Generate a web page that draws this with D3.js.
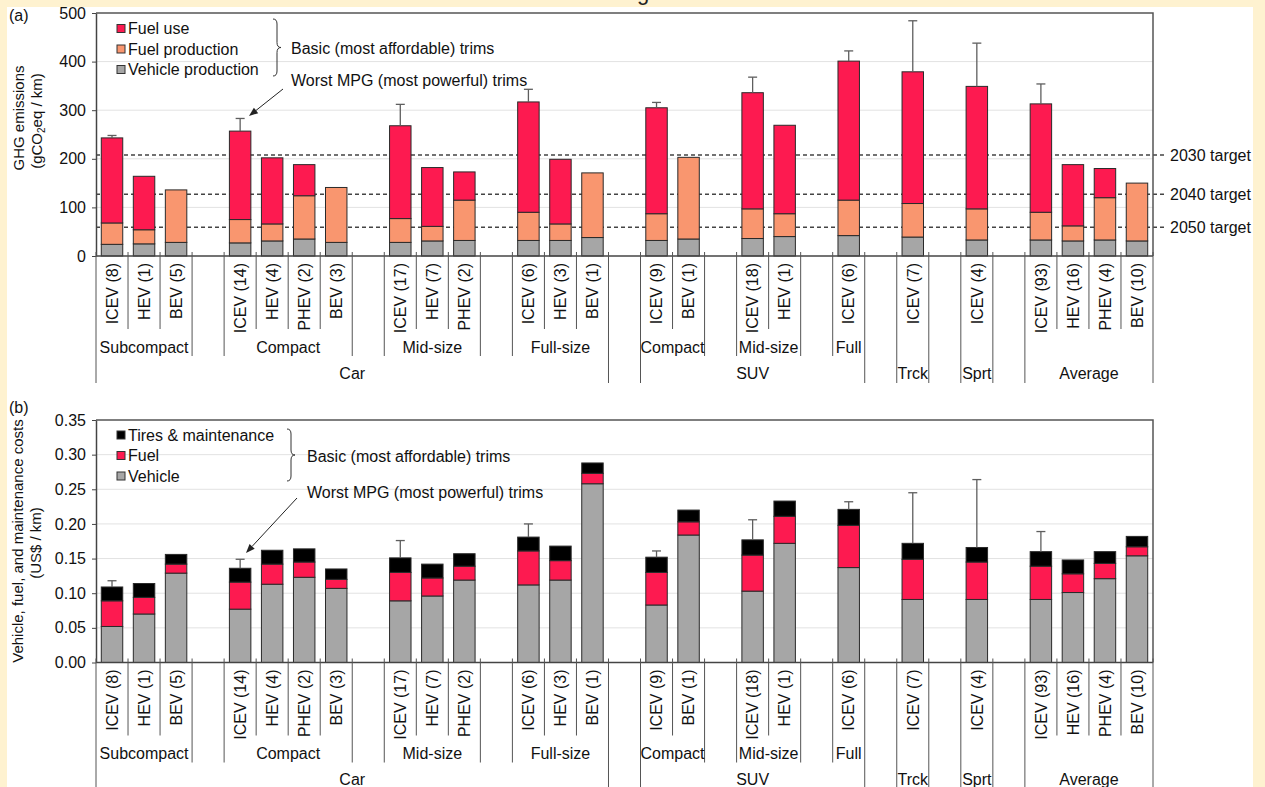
<!DOCTYPE html>
<html>
<head>
<meta charset="utf-8">
<script src="https://cdn.jsdelivr.net/npm/d3@7"></script>
<style>
  html, body { margin: 0; padding: 0; background: #fef2d0; }
  svg { display: block; font-family: "Liberation Sans", Arial, Helvetica, sans-serif; }
</style>
</head>
<body>
<svg id="chart" width="1265" height="787"></svg>
<script>
// ---- category axis: one entry per slot, "" marks a spacer slot ----
const trimLabels = [
  "ICEV (8)", "HEV (1)", "BEV (5)", "",
  "ICEV (14)", "HEV (4)", "PHEV (2)", "BEV (3)", "",
  "ICEV (17)", "HEV (7)", "PHEV (2)", "",
  "ICEV (6)", "HEV (3)", "BEV (1)", "",
  "ICEV (9)", "BEV (1)", "",
  "ICEV (18)", "HEV (1)", "",
  "ICEV (6)", "",
  "ICEV (7)", "",
  "ICEV (4)", "",
  "ICEV (93)", "HEV (16)", "PHEV (4)", "BEV (10)"
];
// [label, number of slots]
const sizeGroups = [
  ["Subcompact", 3], ["", 1], ["Compact", 4], ["", 1], ["Mid-size", 3], ["", 1], ["Full-size", 3], ["", 1],
  ["Compact", 2], ["", 1], ["Mid-size", 2], ["", 1], ["Full", 1],
  ["", 1], ["", 1], ["", 1], ["", 1], ["", 1], ["", 4]
];
const classGroups = [
  ["Car", 16], ["", 1], ["SUV", 7], ["", 1], ["Trck", 1], ["", 1], ["Sprt", 1], ["", 1], ["Average", 4]
];

// ---- (a) GHG emissions, gCO2eq/km (one value per non-spacer slot) ----
const vehicleProduction = [24, 25, 28, 27, 31, 35, 28, 28, 31, 32, 32, 32, 38, 32, 35, 36, 40, 42, 39, 33, 33, 31, 33, 31];
const fuelProduction    = [44, 29, 108, 48, 35, 89, 113, 49, 30, 83, 58, 34, 133, 55, 168, 61, 47, 73, 69, 64, 57, 31, 87, 119];
const fuelUse           = [175, 110, 0, 182, 136, 64, 0, 191, 121, 58, 227, 133, 0, 218, 0, 239, 182, 286, 271, 252, 223, 126, 60, 0];
const ghgWorstMpg       = [248, null, null, 283, null, null, null, 312, null, null, 343, null, null, 316, null, 368, null, 422, 484, 438, 354, null, null, null];
const ghgTicks = [0, 100, 200, 300, 400, 500];
const targetNames  = ["2030 target", "2040 target", "2050 target"];
const targetValues = [208, 127, 59];

// ---- (b) costs, US$/km ----
const vehicleCost = [0.052, 0.070, 0.129, 0.077, 0.113, 0.123, 0.107, 0.089, 0.096, 0.119, 0.112, 0.119, 0.258, 0.083, 0.184, 0.103, 0.172, 0.137, 0.091, 0.091, 0.091, 0.101, 0.121, 0.154];
const fuelCost    = [0.037, 0.024, 0.013, 0.039, 0.029, 0.022, 0.013, 0.041, 0.026, 0.020, 0.049, 0.028, 0.015, 0.047, 0.019, 0.052, 0.039, 0.061, 0.058, 0.054, 0.048, 0.027, 0.022, 0.013];
const tiresCost   = [0.020, 0.020, 0.014, 0.020, 0.020, 0.019, 0.015, 0.021, 0.020, 0.018, 0.020, 0.021, 0.015, 0.022, 0.017, 0.022, 0.022, 0.023, 0.023, 0.021, 0.021, 0.020, 0.017, 0.015];
const costWorstMpg = [0.118, null, null, 0.149, null, null, null, 0.176, null, null, 0.200, null, null, 0.161, null, 0.206, null, 0.232, 0.245, 0.264, 0.189, null, null, null];
const costTicks = [0, 0.05, 0.10, 0.15, 0.20, 0.25, 0.30, 0.35];

const RED = "#fd1a50", ORANGE = "#f9966f", GRAY = "#a6a6a6", BLACK = "#000000";
const FS = 16;

const W = 1265, H = 787;
const svg = d3.select("#chart");
svg.append("rect").attr("width", W).attr("height", H).attr("fill", "#fef2d0");
svg.append("rect").attr("x", 7).attr("y", 7).attr("width", 1246).attr("height", H - 7).attr("fill", "#ffffff");
// page heading, mostly above the top edge
svg.append("text").attr("x", 643).attr("y", 0).attr("text-anchor", "middle")
  .attr("font-size", 22).attr("fill", "#222").text("g");

const slots = d3.range(trimLabels.length);
const barSlots = slots.filter(i => trimLabels[i] !== "");
const x = d3.scaleBand().domain(slots).range([96, 1153]).paddingInner(0.33).paddingOuter(0.165);
const edge = d3.scaleLinear().domain([0, slots.length]).range([96, 1153]);

function cutSet(groups) {
  const s = new Set([0]); let k = 0;
  groups.forEach(([, n]) => { k += n; s.add(k); });
  return s;
}
const sizeCuts = cutSet(sizeGroups), classCuts = cutSet(classGroups);
function spans(groups) {
  let k = 0;
  return groups.map(([label, n]) => { const o = { label, a: k, b: k + n }; k += n; return o; });
}

function brace(g, x0, y0, y1, w) {
  const ym = (y0 + y1) / 2, r = 5, x1 = x0 + w / 2, x2 = x0 + w;
  g.append("path")
    .attr("d", `M${x0},${y0} Q${x1},${y0} ${x1},${y0 + r} L${x1},${ym - r} Q${x1},${ym} ${x2},${ym}` +
               ` Q${x1},${ym} ${x1},${ym + r} L${x1},${y1 - r} Q${x1},${y1} ${x0},${y1}`)
    .attr("fill", "none").attr("stroke", "#333").attr("stroke-width", 1);
}

function arrow(g, x1, y1, x2, y2) {
  const ang = Math.atan2(y2 - y1, x2 - x1), L = 9, Wd = 3.5;
  const bx = x2 - L * Math.cos(ang), by = y2 - L * Math.sin(ang);
  g.append("line").attr("x1", x1).attr("y1", y1).attr("x2", bx).attr("y2", by)
    .attr("stroke", "#222").attr("stroke-width", 1);
  const px = -Math.sin(ang) * Wd, py = Math.cos(ang) * Wd;
  g.append("path").attr("d", `M${x2},${y2} L${bx + px},${by + py} L${bx - px},${by - py} Z`).attr("fill", "#222");
}

function panel(p) {
  const g = svg.append("g");
  const y = d3.scaleLinear().domain([0, p.max]).range([p.base, p.top]);

  // gridlines
  g.append("g").selectAll("line").data(p.ticks.filter(t => t > 0 && t < p.max)).join("line")
    .attr("x1", 96).attr("x2", 1153).attr("y1", d => y(d)).attr("y2", d => y(d))
    .attr("stroke", "#e2e2e2").attr("stroke-width", 1);

  // reduction targets
  if (p.targets) {
    const tg = g.append("g");
    tg.selectAll("line").data(p.targets.values).join("line")
      .attr("x1", 96).attr("x2", 1164).attr("y1", d => y(d)).attr("y2", d => y(d))
      .attr("stroke", "#444").attr("stroke-width", 1.5).attr("stroke-dasharray", "4,3");
    tg.selectAll("text").data(p.targets.values).join("text")
      .attr("x", 1170).attr("y", d => y(d)).attr("dy", "0.36em")
      .attr("font-size", FS).attr("fill", "#111").text((d, i) => p.targets.names[i]);
  }

  // stacked bars
  const rows = barSlots.map((s, i) => {
    const r = { slot: s };
    p.series.forEach(se => { r[se.key] = se.values[i]; });
    return r;
  });
  const stack = d3.stack().keys(p.series.map(s => s.key))(rows);
  const colorOf = Object.fromEntries(p.series.map(s => [s.key, s.color]));
  g.append("g").selectAll("g").data(stack).join("g")
    .attr("fill", d => colorOf[d.key])
    .selectAll("rect").data(d => d.filter(v => v[1] - v[0] > 0)).join("rect")
    .attr("x", d => x(d.data.slot)).attr("width", x.bandwidth())
    .attr("y", d => y(d[1])).attr("height", d => y(d[0]) - y(d[1]))
    .attr("stroke", "#2a2a2a").attr("stroke-width", 1);

  // worst-MPG trims: whiskers above the basic-trim totals
  const tops = rows.map((r, i) => ({ slot: r.slot, top: stack[stack.length - 1][i][1], worst: p.worst[i] }))
    .filter(d => d.worst != null);
  const eg = g.append("g").attr("stroke", "#5e5e5e").attr("stroke-width", 1.3);
  eg.selectAll("line.v").data(tops).join("line").attr("class", "v")
    .attr("x1", d => x(d.slot) + x.bandwidth() / 2).attr("x2", d => x(d.slot) + x.bandwidth() / 2)
    .attr("y1", d => y(d.top)).attr("y2", d => y(d.worst));
  eg.selectAll("line.c").data(tops).join("line").attr("class", "c")
    .attr("x1", d => x(d.slot) + x.bandwidth() / 2 - 4.5).attr("x2", d => x(d.slot) + x.bandwidth() / 2 + 4.5)
    .attr("y1", d => y(d.worst)).attr("y2", d => y(d.worst));

  // frame (top, right)
  g.append("path").attr("d", `M96,${p.top} H1153 V${p.base}`)
    .attr("fill", "none").attr("stroke", "#555").attr("stroke-width", 1.5);

  // value axis
  const ya = g.append("g").attr("transform", "translate(96,0)")
    .call(d3.axisLeft(y).tickValues(p.ticks).tickFormat(p.fmt).tickSize(4).tickSizeOuter(0).tickPadding(6));
  ya.select(".domain").attr("stroke", "#444").attr("stroke-width", 1.5);
  ya.selectAll(".tick line").attr("stroke", "#444");
  ya.selectAll("text").attr("font-size", FS).attr("fill", "#111").attr("font-family", null);

  // category axis
  g.append("line").attr("x1", 96).attr("x2", 1153).attr("y1", p.base).attr("y2", p.base)
    .attr("stroke", "#444").attr("stroke-width", 1.5);
  const edges = d3.range(slots.length + 1);
  g.append("g").selectAll("line").data(edges).join("line")
    .attr("x1", d => edge(d)).attr("x2", d => edge(d))
    .attr("y1", p.base - 4)
    .attr("y2", d => p.base + (classCuts.has(d) ? 127 : sizeCuts.has(d) ? 100 : 73))
    .attr("stroke", "#555").attr("stroke-width", 1);

  g.append("g").selectAll("text").data(barSlots).join("text")
    .attr("transform", d => `translate(${x(d) + x.bandwidth() / 2},${p.base + 7}) rotate(-90)`)
    .attr("text-anchor", "end").attr("dy", "0.36em").attr("font-size", FS).attr("fill", "#111")
    .text(d => trimLabels[d]);
  g.append("g").selectAll("text").data(spans(sizeGroups).filter(d => d.label)).join("text")
    .attr("x", d => (edge(d.a) + edge(d.b)) / 2).attr("y", p.base + 91).attr("dy", "0.36em")
    .attr("text-anchor", "middle").attr("font-size", FS).attr("fill", "#111").text(d => d.label);
  g.append("g").selectAll("text").data(spans(classGroups).filter(d => d.label)).join("text")
    .attr("x", d => (edge(d.a) + edge(d.b)) / 2).attr("y", p.base + 117).attr("dy", "0.36em")
    .attr("text-anchor", "middle").attr("font-size", FS).attr("fill", "#111").text(d => d.label);

  // panel tag
  g.append("text").attr("x", 9).attr("y", p.tagY).attr("font-size", FS).attr("fill", "#111").text(p.tag);

  // value-axis title
  const tt = g.append("g").attr("font-size", 15).attr("fill", "#111").attr("text-anchor", "middle");
  p.title(tt);

  // legend (listed top of stack first)
  const lg = g.append("g");
  p.legend.forEach((s, i) => {
    const cy = p.legendY + i * 20.5;
    lg.append("rect").attr("x", 117).attr("y", cy - 4).attr("width", 8).attr("height", 8)
      .attr("fill", s.color).attr("stroke", "#333").attr("stroke-width", 1);
    lg.append("text").attr("x", 128).attr("y", cy).attr("dy", "0.36em").attr("font-size", FS)
      .attr("fill", "#111").text(s.name);
  });
  brace(lg, p.brace.x, p.brace.y0, p.brace.y1, 8);
  lg.append("text").attr("x", p.note.x).attr("y", p.note.y1).attr("dy", "0.36em").attr("font-size", FS)
    .attr("fill", "#111").text("Basic (most affordable) trims");
  lg.append("text").attr("x", p.note.x).attr("y", p.note.y2).attr("dy", "0.36em").attr("font-size", FS)
    .attr("fill", "#111").text("Worst MPG (most powerful) trims");
  arrow(lg, p.arrow[0], p.arrow[1], p.arrow[2], p.arrow[3]);
}

panel({
  tag: "(a)", tagY: 21,
  top: 13, base: 256, max: 500, ticks: ghgTicks, fmt: d3.format("d"),
  series: [
    { key: "vehicle", values: vehicleProduction, color: GRAY },
    { key: "fuelProd", values: fuelProduction, color: ORANGE },
    { key: "fuelUse", values: fuelUse, color: RED }
  ],
  legend: [
    { name: "Fuel use", color: RED },
    { name: "Fuel production", color: ORANGE },
    { name: "Vehicle production", color: GRAY }
  ],
  legendY: 28.5,
  worst: ghgWorstMpg,
  targets: { names: targetNames, values: targetValues },
  brace: { x: 273, y0: 19, y1: 76 },
  note: { x: 291, y1: 48, y2: 80 },
  arrow: [283, 89, 249, 116],
  title: t => {
    t.append("text").attr("transform", "translate(24,118) rotate(-90)").text("GHG emissions");
    const l2 = t.append("text").attr("transform", "translate(42,121) rotate(-90)");
    l2.append("tspan").text("(gCO");
    l2.append("tspan").attr("font-size", 10).attr("dy", 3).text("2");
    l2.append("tspan").attr("dy", -3).text("eq / km)");
  }
});

panel({
  tag: "(b)", tagY: 413,
  top: 420, base: 662.5, max: 0.35, ticks: costTicks, fmt: d3.format(".2f"),
  series: [
    { key: "vehicle", values: vehicleCost, color: GRAY },
    { key: "fuel", values: fuelCost, color: RED },
    { key: "tires", values: tiresCost, color: BLACK }
  ],
  legend: [
    { name: "Tires & maintenance", color: BLACK },
    { name: "Fuel", color: RED },
    { name: "Vehicle", color: GRAY }
  ],
  legendY: 435,
  worst: costWorstMpg,
  targets: null,
  brace: { x: 287, y0: 429, y1: 481 },
  note: { x: 307, y1: 456, y2: 492 },
  arrow: [297, 498, 246, 553],
  title: t => {
    t.append("text").attr("transform", "translate(23,541) rotate(-90)").text("Vehicle, fuel, and maintenance costs");
    t.append("text").attr("transform", "translate(41,543) rotate(-90)").text("(US$ / km)");
  }
});
</script>
</body>
</html>
